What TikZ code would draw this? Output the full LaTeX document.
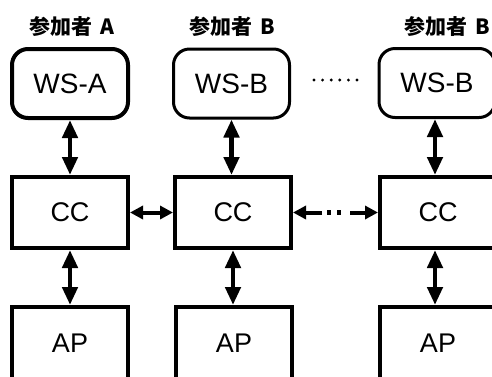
\documentclass[tikz,border=0pt]{standalone}
\usepackage{fontspec}
\setmainfont{Liberation Sans}
\newfontfamily\cjk{Noto Sans CJK JP}
\usetikzlibrary{arrows.meta}
\begin{document}
\begin{tikzpicture}[x=1pt,y=-1pt,
  box/.style={draw, line width=4pt, minimum width=116pt, inner sep=0pt, font=\fontsize{27}{27}\selectfont},
  ws/.style={box, rounded corners=16pt, minimum height=69pt, font=\fontsize{28}{28}\selectfont},
  wsthin/.style={ws, line width=3pt},
  cc/.style={box, minimum height=71pt},
  ap/.style={box, minimum height=72pt},
  ttl/.style={font=\cjk\bfseries\fontsize{21}{21}\selectfont},
  vtip/.tip={Triangle[length=18pt,width=15pt]},
  htip/.tip={Triangle[length=13pt,width=13pt]},
  arr/.style={line width=4.5pt, vtip-vtip},
  harr2/.style={line width=4pt, htip-htip},
  harr/.style={line width=4pt, -htip},
]
\useasboundingbox (0,0) rectangle (492,376);
\clip (0,0) rectangle (492,376);
\node[ttl] (tA) at (72,27) {参加者\, A};
\node[ttl] (tB1) at (232,27) {参加者\, B};
\node[ttl] (tB2) at (447,27) {参加者\, B};
\node[ws] (wsa) at (70,83.5) {WS-A};
\node[wsthin] (wsb1) at (231.5,83.5) {WS-B};
\node[wsthin] (wsb2) at (437,83) {WS-B};
\node[cc] (cca) at (70,212.5) {CC};
\node[cc] (ccb1) at (233,212.5) {CC};
\node[cc] (ccb2) at (438,212.5) {CC};
\node[ap] (apa) at (70,343) {AP};
\node[ap] (apb1) at (234,343) {AP};
\node[ap] (apb2) at (438,343) {AP};
% vertical arrows
\draw[arr] (wsa.south) -- (cca.north);
\draw[arr] (wsb1.south) -- (ccb1.north -| wsb1.south);
\draw[arr] ([xshift=-2pt]wsb2.south) -- ([xshift=-3pt]ccb2.north);
\draw[arr] (cca.south) -- (apa.north);
\draw[arr] (ccb1.south) -- (ccb1.south |- apb1.north);
\draw[arr] ([xshift=-3pt]ccb2.south) -- ([xshift=-3pt]apb2.north);
% horizontal arrows
\draw[harr2] (cca.east) -- (ccb1.west);
\coordinate (d1) at (322,212.5);
\coordinate (d2) at (350,212.5);
\coordinate (d3) at (327,212.5);
\coordinate (d4) at (345,212.5);
\draw[harr] (d1) -- (ccb1.east);
\draw[harr] (d2) -- (ccb2.west);
\draw[line width=4.5pt, dash pattern=on 4pt off 6pt on 4pt off 10pt] (d3) -- (d4);
% dots between WS boxes
\draw[line width=3.2pt, line cap=round, dash pattern=on 0pt off 8.6pt] (314,80) -- (358,80);
\end{tikzpicture}
\end{document}
